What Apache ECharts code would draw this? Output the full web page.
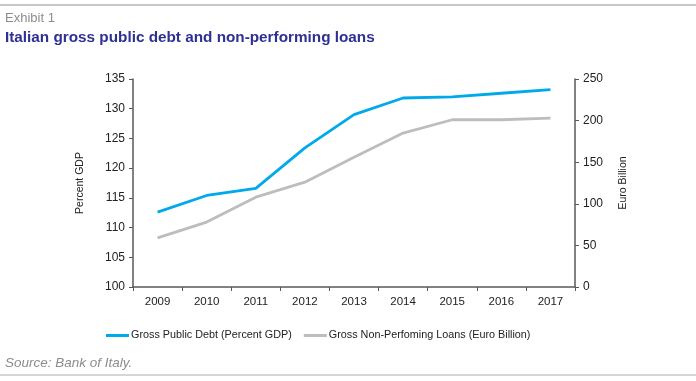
<!DOCTYPE html>
<html><head><meta charset="utf-8">
<script src="https://cdn.jsdelivr.net/npm/echarts@6/dist/echarts.min.js"></script>
<style>html,body{margin:0;padding:0;background:#fff}#c{width:696px;height:381px}</style>
</head><body><div id="c"></div>
<script>
const years = ['2009','2010','2011','2012','2013','2014','2015','2016','2017'];
const publicDebt = [112.6, 115.4, 116.6, 123.4, 129.0, 131.8, 132.0, 132.6, 133.2];
const npl = [59, 78, 108, 126, 156, 185, 201, 201, 203];
const debtName = 'Gross Public Debt (Percent GDP)';
const nplName = 'Gross Non-Perfoming Loans (Euro Billion)';

const chart = echarts.init(document.getElementById('c'), null, {renderer:'canvas'});
const font = 'Liberation Sans, Arial, sans-serif';
chart.setOption({
  animation:false,
  textStyle:{fontFamily:font},
  grid:{left:133, right:121, top:79, bottom:94, containLabel:false},
  legend:{
    top:325, left:101, itemGap:12, itemWidth:23, itemHeight:3,
    icon:'rect', itemStyle:{borderWidth:0},
    textStyle:{fontFamily:font, fontSize:10.8, color:'#222', padding:[0,0,0,-3]},
    data:[{name:debtName},{name:nplName}]
  },
  graphic:[
    {type:'line', shape:{x1:0,y1:5,x2:696,y2:5}, style:{stroke:'#c8c8c8', lineWidth:2}},
    {type:'text', left:5, top:12, style:{text:'Exhibit 1', font:'13px '+font, fill:'#8c8c8c'}},
    {type:'text', left:5, top:30, style:{text:'Italian gross public debt and non-performing loans', font:'bold 15.3px '+font, fill:'#2e3192'}},
    {type:'text', left:5, top:356, style:{text:'Source: Bank of Italy.', font:'italic 13.5px '+font, fill:'#8c8c8c'}},
    {type:'line', shape:{x1:0,y1:375,x2:696,y2:375}, style:{stroke:'#c8c8c8', lineWidth:1.5}}
  ],
  xAxis:{
    type:'category', data:years, boundaryGap:true,
    axisLine:{lineStyle:{color:'#595959', width:1.5}},
    axisTick:{show:true, inside:false, length:4, lineStyle:{color:'#595959'}},
    axisLabel:{color:'#222', fontSize:11.5, margin:9},
    splitLine:{show:false}
  },
  yAxis:[
    {type:'value', min:100, max:135, interval:5, position:'left',
     name:'Percent GDP', nameLocation:'middle', nameGap:47, nameRotate:90,
     nameTextStyle:{fontSize:10.5, color:'#222'},
     axisLine:{show:true, lineStyle:{color:'#595959', width:1.5}},
     axisTick:{show:true, inside:false, length:4, lineStyle:{color:'#595959'}},
     axisLabel:{color:'#222', fontSize:12, margin:8},
     splitLine:{show:false}},
    {type:'value', min:0, max:250, interval:50, position:'right',
     name:'Euro Billion', nameLocation:'middle', nameGap:43, nameRotate:90,
     nameTextStyle:{fontSize:10.5, color:'#222'},
     axisLine:{show:true, lineStyle:{color:'#595959', width:1.5}},
     axisTick:{show:true, inside:false, length:4, lineStyle:{color:'#595959'}},
     axisLabel:{color:'#222', fontSize:12, margin:8},
     splitLine:{show:false}}
  ],
  series:[
    {name:debtName, type:'line', yAxisIndex:0, data:publicDebt, symbol:'none',
     lineStyle:{color:'#00a9ea', width:2.8}, itemStyle:{color:'#00a9ea'}},
    {name:nplName, type:'line', yAxisIndex:1, data:npl, symbol:'none',
     lineStyle:{color:'#bdbdbd', width:2.8}, itemStyle:{color:'#bdbdbd'}}
  ]
});
</script></body></html>
